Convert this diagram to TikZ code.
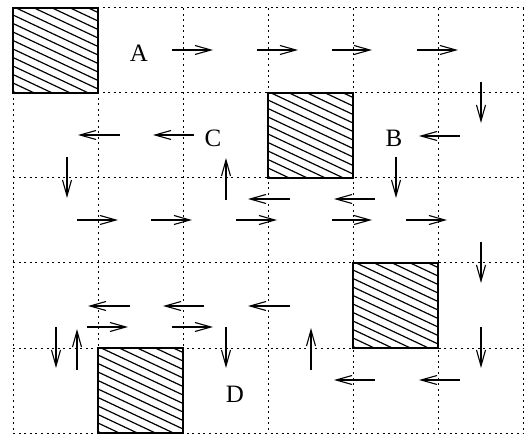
\documentclass[tikz,border=0pt]{standalone}
\usepackage{fontspec}
\setmainfont{Liberation Serif}
\usetikzlibrary{arrows.meta}
\tikzset{
  gridline/.style={line width=1pt, dash pattern=on 2pt off 3.6pt},
  obstacle/.style={line width=1.4pt},
  hatchline/.style={line width=1.2pt},
  movearrow/.style={line width=1.1pt, -{Straight Barb[length=16pt,width=9pt,line width=1.1pt]}},
  lbl/.style={inner sep=0pt, font=\fontsize{25}{25}\selectfont}
}
\begin{document}
\begin{tikzpicture}[x=1pt,y=-1pt]
\useasboundingbox (0,0) rectangle (524,435);
% grid
\foreach \gx in {13,98,183,268,353,438,523} \draw[gridline] (\gx,8) -- (\gx,433);
\foreach \gy in {8,93,178,263,348,433} \draw[gridline] (13,\gy) -- (523,\gy);
% obstacles
\foreach \ox/\oy in {13/8, 268/93, 353/263, 98/348} {
  \fill[white] (\ox,\oy) rectangle ++(85,85);
  \begin{scope}
    \clip (\ox,\oy) rectangle ++(85,85);
    \foreach \k in {-6,...,10} \draw[hatchline] (\ox,\oy+7+\k*8.5) -- ++(85,40);
  \end{scope}
  \draw[obstacle] (\ox,\oy) rectangle ++(85,85);
}
% arrows
\foreach \ax/\ay/\bx/\by in {
  172/50/213/50, 257/50/298/50, 332/50/372/50, 417/50/458/50,
  481/82/481/123,
  120/135/78/135, 194/135/153/135, 460/136/419/136,
  67/157/67/198, 226/200/226/158, 396/157/396/198,
  290/199/248/199, 375/199/334/199,
  77/220/118/220, 151/220/192/220, 236/220/277/220, 332/220/372/220, 406/220/447/220,
  481/242/481/283,
  130/306/88/306, 204/306/163/306, 290/306/248/306,
  87/327/128/327, 172/327/213/327,
  56/327/56/368, 77/370/77/329, 226/327/226/368, 311/370/311/328, 481/327/481/368,
  375/380/334/380, 460/380/419/380}
  \draw[movearrow] (\ax,\ay) -- (\bx,\by);
% labels
\node[lbl] (A) at (139,53) {A};
\node[lbl] (C) at (213,138) {C};
\node[lbl] (B) at (394,138) {B};
\node[lbl] (D) at (235,394) {D};
\end{tikzpicture}
\end{document}
